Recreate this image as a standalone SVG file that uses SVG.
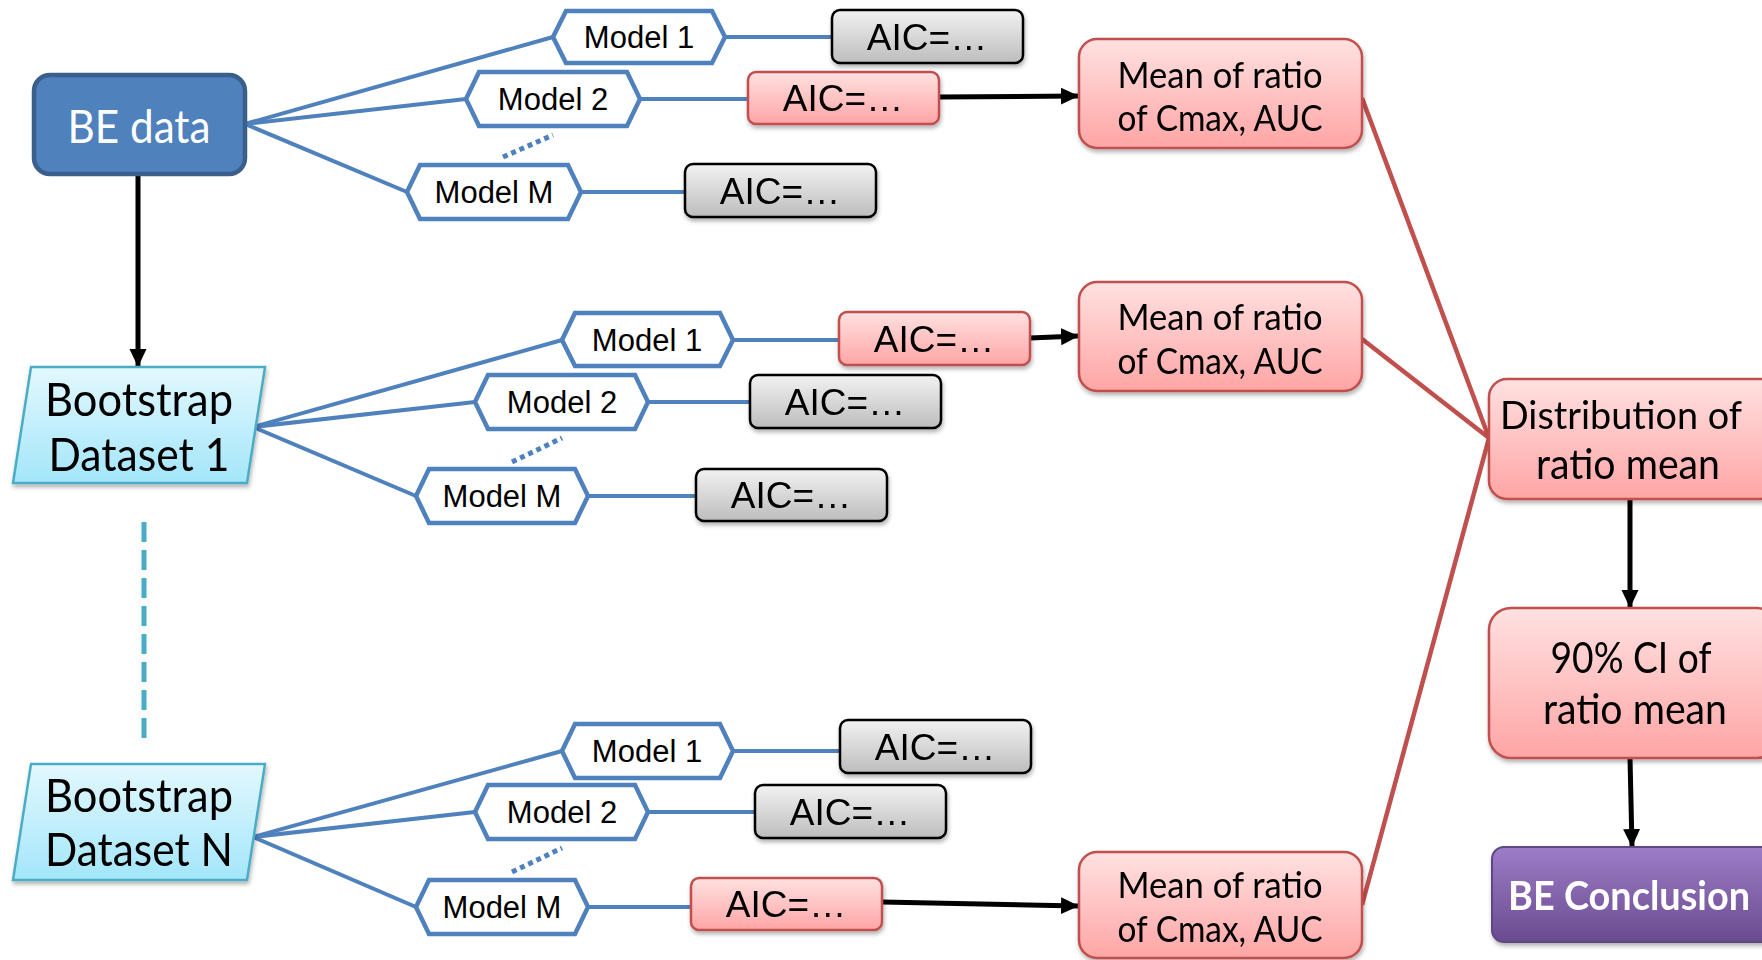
<svg xmlns="http://www.w3.org/2000/svg" width="1762" height="960" viewBox="0 0 1762 960">
<defs>
<linearGradient id="gGray" x1="0" y1="0" x2="0" y2="1"><stop offset="0" stop-color="#F2F2F2"/><stop offset="1" stop-color="#BDBDBD"/></linearGradient>
<linearGradient id="gRed" x1="0" y1="0" x2="0" y2="1"><stop offset="0" stop-color="#FFE1E1"/><stop offset="1" stop-color="#FFA5A5"/></linearGradient>
<linearGradient id="gCyan" x1="0" y1="0" x2="0" y2="1"><stop offset="0" stop-color="#E3F8FE"/><stop offset="1" stop-color="#A3E6FA"/></linearGradient>
<linearGradient id="gPurple" x1="0" y1="0" x2="0" y2="1"><stop offset="0" stop-color="#9C7DC6"/><stop offset="1" stop-color="#6A4B91"/></linearGradient>
<filter id="sh" x="-10%" y="-10%" width="120%" height="130%"><feDropShadow dx="1" dy="3" stdDeviation="2" flood-color="#000" flood-opacity="0.3"/></filter>
<marker id="ah" markerUnits="userSpaceOnUse" markerWidth="20" markerHeight="20" refX="17" refY="10" orient="auto"><path d="M0,1.5 L18,10 L0,18.5 Z" fill="#000"/></marker>
</defs>
<style>
.hex{fill:#fff;stroke:#4F81BD;stroke-width:4.5;stroke-linejoin:miter}
.aicG{fill:url(#gGray);stroke:#000;stroke-width:2.5}
.aicR{fill:url(#gRed);stroke:#C0504D;stroke-width:2.5}
.mean{fill:url(#gRed);stroke:#C0504D;stroke-width:2.5}
.ds{fill:url(#gCyan);stroke:#4BACC6;stroke-width:2.5}
.mt{font-family:"Liberation Sans",Arial,sans-serif;font-size:31px;fill:#000;text-anchor:middle}
.at{font-family:"Liberation Sans",Arial,sans-serif;font-size:37px;fill:#000;text-anchor:middle}
.ct{font-family:Lato,"Open Sans",sans-serif;fill:#000;text-anchor:middle}
.bl{stroke:#4F81BD;stroke-width:4;fill:none}
.rl{stroke:#C0504D;stroke-width:4.5;fill:none}
.ar{stroke:#000;stroke-width:5;fill:none;marker-end:url(#ah)}
.dot{stroke:#4F81BD;stroke-width:5;stroke-dasharray:5 4;fill:none}
</style>

<g id="connectors">
<line class="ar" x1="138" y1="174" x2="138" y2="366"/>
<line x1="144" y1="522" x2="144" y2="738" stroke="#4BACC6" stroke-width="5" stroke-dasharray="20 8"/>
<!-- group 1 -->
<line class="bl" x1="245" y1="124" x2="553" y2="37"/>
<line class="bl" x1="245" y1="124" x2="466" y2="99"/>
<line class="bl" x1="245" y1="124" x2="407" y2="192"/>
<line class="dot" x1="503" y1="157" x2="553" y2="135"/>
<line class="bl" x1="725" y1="37" x2="832" y2="37"/>
<line class="bl" x1="640" y1="99" x2="748" y2="99"/>
<line class="bl" x1="581" y1="192" x2="685" y2="192"/>
<line class="ar" x1="939" y1="97" x2="1078" y2="96"/>
<!-- group 2 -->
<line class="bl" x1="253" y1="427" x2="562" y2="340"/>
<line class="bl" x1="253" y1="427" x2="475" y2="402"/>
<line class="bl" x1="253" y1="427" x2="416" y2="496"/>
<line class="dot" x1="512" y1="462" x2="562" y2="438"/>
<line class="bl" x1="733" y1="340" x2="839" y2="340"/>
<line class="bl" x1="648" y1="402" x2="750" y2="402"/>
<line class="bl" x1="588" y1="496" x2="696" y2="496"/>
<line class="ar" x1="1030" y1="338" x2="1078" y2="336"/>
<!-- group 3 -->
<line class="bl" x1="253" y1="837" x2="562" y2="751"/>
<line class="bl" x1="253" y1="837" x2="475" y2="812"/>
<line class="bl" x1="253" y1="837" x2="416" y2="907"/>
<line class="dot" x1="512" y1="872" x2="562" y2="848"/>
<line class="bl" x1="733" y1="751" x2="840" y2="751"/>
<line class="bl" x1="648" y1="812" x2="755" y2="812"/>
<line class="bl" x1="588" y1="907" x2="691" y2="907"/>
<line class="ar" x1="882" y1="902" x2="1078" y2="906"/>
<!-- red -->
<line class="rl" x1="1362" y1="98" x2="1489" y2="438"/>
<line class="rl" x1="1362" y1="339" x2="1489" y2="438"/>
<line class="rl" x1="1362" y1="905" x2="1489" y2="438"/>
<!-- right column -->
<line class="ar" x1="1630" y1="499" x2="1630" y2="607"/>
<line class="ar" x1="1630" y1="758" x2="1632" y2="846"/>
</g>

<g id="be-data">
<rect x="34" y="75" width="211" height="99" rx="16" fill="#4F81BD" stroke="#3A5F8C" stroke-width="4.5"/>
<text class="ct" x="139" y="143" font-size="46" style="fill:#fff" textLength="143" lengthAdjust="spacingAndGlyphs">BE data</text>
</g>

<g id="bootstrap-1" filter="url(#sh)">
<polygon class="ds" points="31,367 265,367 247,483 13,483"/>
<text class="ct" x="139" y="416" font-size="46" textLength="188" lengthAdjust="spacingAndGlyphs">Bootstrap</text>
<text class="ct" x="139" y="471" font-size="46" textLength="181" lengthAdjust="spacingAndGlyphs">Dataset 1</text>
</g>

<g id="bootstrap-n" filter="url(#sh)">
<polygon class="ds" points="31,764 265,764 247,880 13,880"/>
<text class="ct" x="139" y="812" font-size="46" textLength="188" lengthAdjust="spacingAndGlyphs">Bootstrap</text>
<text class="ct" x="139" y="866" font-size="46" textLength="188" lengthAdjust="spacingAndGlyphs">Dataset N</text>
</g>

<!-- group 1 models -->
<g id="g1-model1"><polygon class="hex" points="553,37 566,11 712,11 725,37 712,63 566,63"/><text class="mt" x="639" y="48">Model 1</text></g>
<g id="g1-model2"><polygon class="hex" points="466,99 479,72 627,72 640,99 627,126 479,126"/><text class="mt" x="553" y="110">Model 2</text></g>
<g id="g1-modelm"><polygon class="hex" points="407,192 420,165 568,165 581,192 568,219 420,219"/><text class="mt" x="494" y="203">Model M</text></g>
<g id="g1-aic1" filter="url(#sh)"><rect class="aicG" x="832" y="10" width="191" height="53" rx="8"/><text class="at" x="927" y="50">AIC=…</text></g>
<g id="g1-aic2" filter="url(#sh)"><rect class="aicR" x="748" y="72" width="191" height="52" rx="8"/><text class="at" x="843" y="111">AIC=…</text></g>
<g id="g1-aicm" filter="url(#sh)"><rect class="aicG" x="685" y="164" width="191" height="53" rx="8"/><text class="at" x="780" y="204">AIC=…</text></g>
<g id="mean-1" filter="url(#sh)"><rect class="mean" x="1079" y="39" width="283" height="109" rx="18"/>
<text class="ct" x="1220" y="88" font-size="37" textLength="205" lengthAdjust="spacingAndGlyphs">Mean of ratio</text>
<text class="ct" x="1220" y="131" font-size="37" textLength="205" lengthAdjust="spacingAndGlyphs">of Cmax, AUC</text></g>

<!-- group 2 models -->
<g id="g2-model1"><polygon class="hex" points="562,340 575,313 720,313 733,340 720,366 575,366"/><text class="mt" x="647" y="351">Model 1</text></g>
<g id="g2-model2"><polygon class="hex" points="475,402 488,375 635,375 648,402 635,429 488,429"/><text class="mt" x="562" y="413">Model 2</text></g>
<g id="g2-modelm"><polygon class="hex" points="416,496 429,469 575,469 588,496 575,523 429,523"/><text class="mt" x="502" y="507">Model M</text></g>
<g id="g2-aic1" filter="url(#sh)"><rect class="aicR" x="839" y="312" width="191" height="53" rx="8"/><text class="at" x="934" y="352">AIC=…</text></g>
<g id="g2-aic2" filter="url(#sh)"><rect class="aicG" x="750" y="375" width="191" height="53" rx="8"/><text class="at" x="845" y="415">AIC=…</text></g>
<g id="g2-aicm" filter="url(#sh)"><rect class="aicG" x="696" y="469" width="191" height="52" rx="8"/><text class="at" x="791" y="508">AIC=…</text></g>
<g id="mean-2" filter="url(#sh)"><rect class="mean" x="1079" y="282" width="283" height="109" rx="18"/>
<text class="ct" x="1220" y="330" font-size="37" textLength="205" lengthAdjust="spacingAndGlyphs">Mean of ratio</text>
<text class="ct" x="1220" y="374" font-size="37" textLength="205" lengthAdjust="spacingAndGlyphs">of Cmax, AUC</text></g>

<!-- group 3 models -->
<g id="g3-model1"><polygon class="hex" points="562,751 575,724 720,724 733,751 720,778 575,778"/><text class="mt" x="647" y="762">Model 1</text></g>
<g id="g3-model2"><polygon class="hex" points="475,812 488,785 635,785 648,812 635,839 488,839"/><text class="mt" x="562" y="823">Model 2</text></g>
<g id="g3-modelm"><polygon class="hex" points="416,907 429,880 575,880 588,907 575,934 429,934"/><text class="mt" x="502" y="918">Model M</text></g>
<g id="g3-aic1" filter="url(#sh)"><rect class="aicG" x="840" y="720" width="191" height="53" rx="8"/><text class="at" x="935" y="760">AIC=…</text></g>
<g id="g3-aic2" filter="url(#sh)"><rect class="aicG" x="755" y="785" width="191" height="53" rx="8"/><text class="at" x="850" y="825">AIC=…</text></g>
<g id="g3-aicm" filter="url(#sh)"><rect class="aicR" x="691" y="878" width="191" height="52" rx="8"/><text class="at" x="786" y="917">AIC=…</text></g>
<g id="mean-3" filter="url(#sh)"><rect class="mean" x="1079" y="852" width="283" height="106" rx="18"/>
<text class="ct" x="1220" y="898" font-size="37" textLength="205" lengthAdjust="spacingAndGlyphs">Mean of ratio</text>
<text class="ct" x="1220" y="942" font-size="37" textLength="205" lengthAdjust="spacingAndGlyphs">of Cmax, AUC</text></g>

<!-- right column -->
<g id="distribution" filter="url(#sh)"><rect class="mean" x="1489" y="379" width="290" height="120" rx="18"/>
<text class="ct" x="1621" y="429" font-size="39" textLength="242" lengthAdjust="spacingAndGlyphs">Distribution of</text>
<text class="ct" x="1628" y="479" font-size="42" textLength="184" lengthAdjust="spacingAndGlyphs">ratio mean</text></g>
<g id="ci90" filter="url(#sh)"><rect class="mean" x="1489" y="608" width="290" height="150" rx="22"/>
<text class="ct" x="1631" y="673" font-size="42" textLength="161" lengthAdjust="spacingAndGlyphs">90% CI of</text>
<text class="ct" x="1635" y="724" font-size="42" textLength="184" lengthAdjust="spacingAndGlyphs">ratio mean</text></g>
<g id="be-conclusion" filter="url(#sh)"><rect x="1492" y="847" width="290" height="95" rx="12" fill="url(#gPurple)" stroke="#5F4680" stroke-width="2"/>
<text class="ct" x="1629" y="910" font-size="40" font-weight="bold" style="fill:#fff" textLength="242" lengthAdjust="spacingAndGlyphs">BE Conclusion</text></g>
</svg>
